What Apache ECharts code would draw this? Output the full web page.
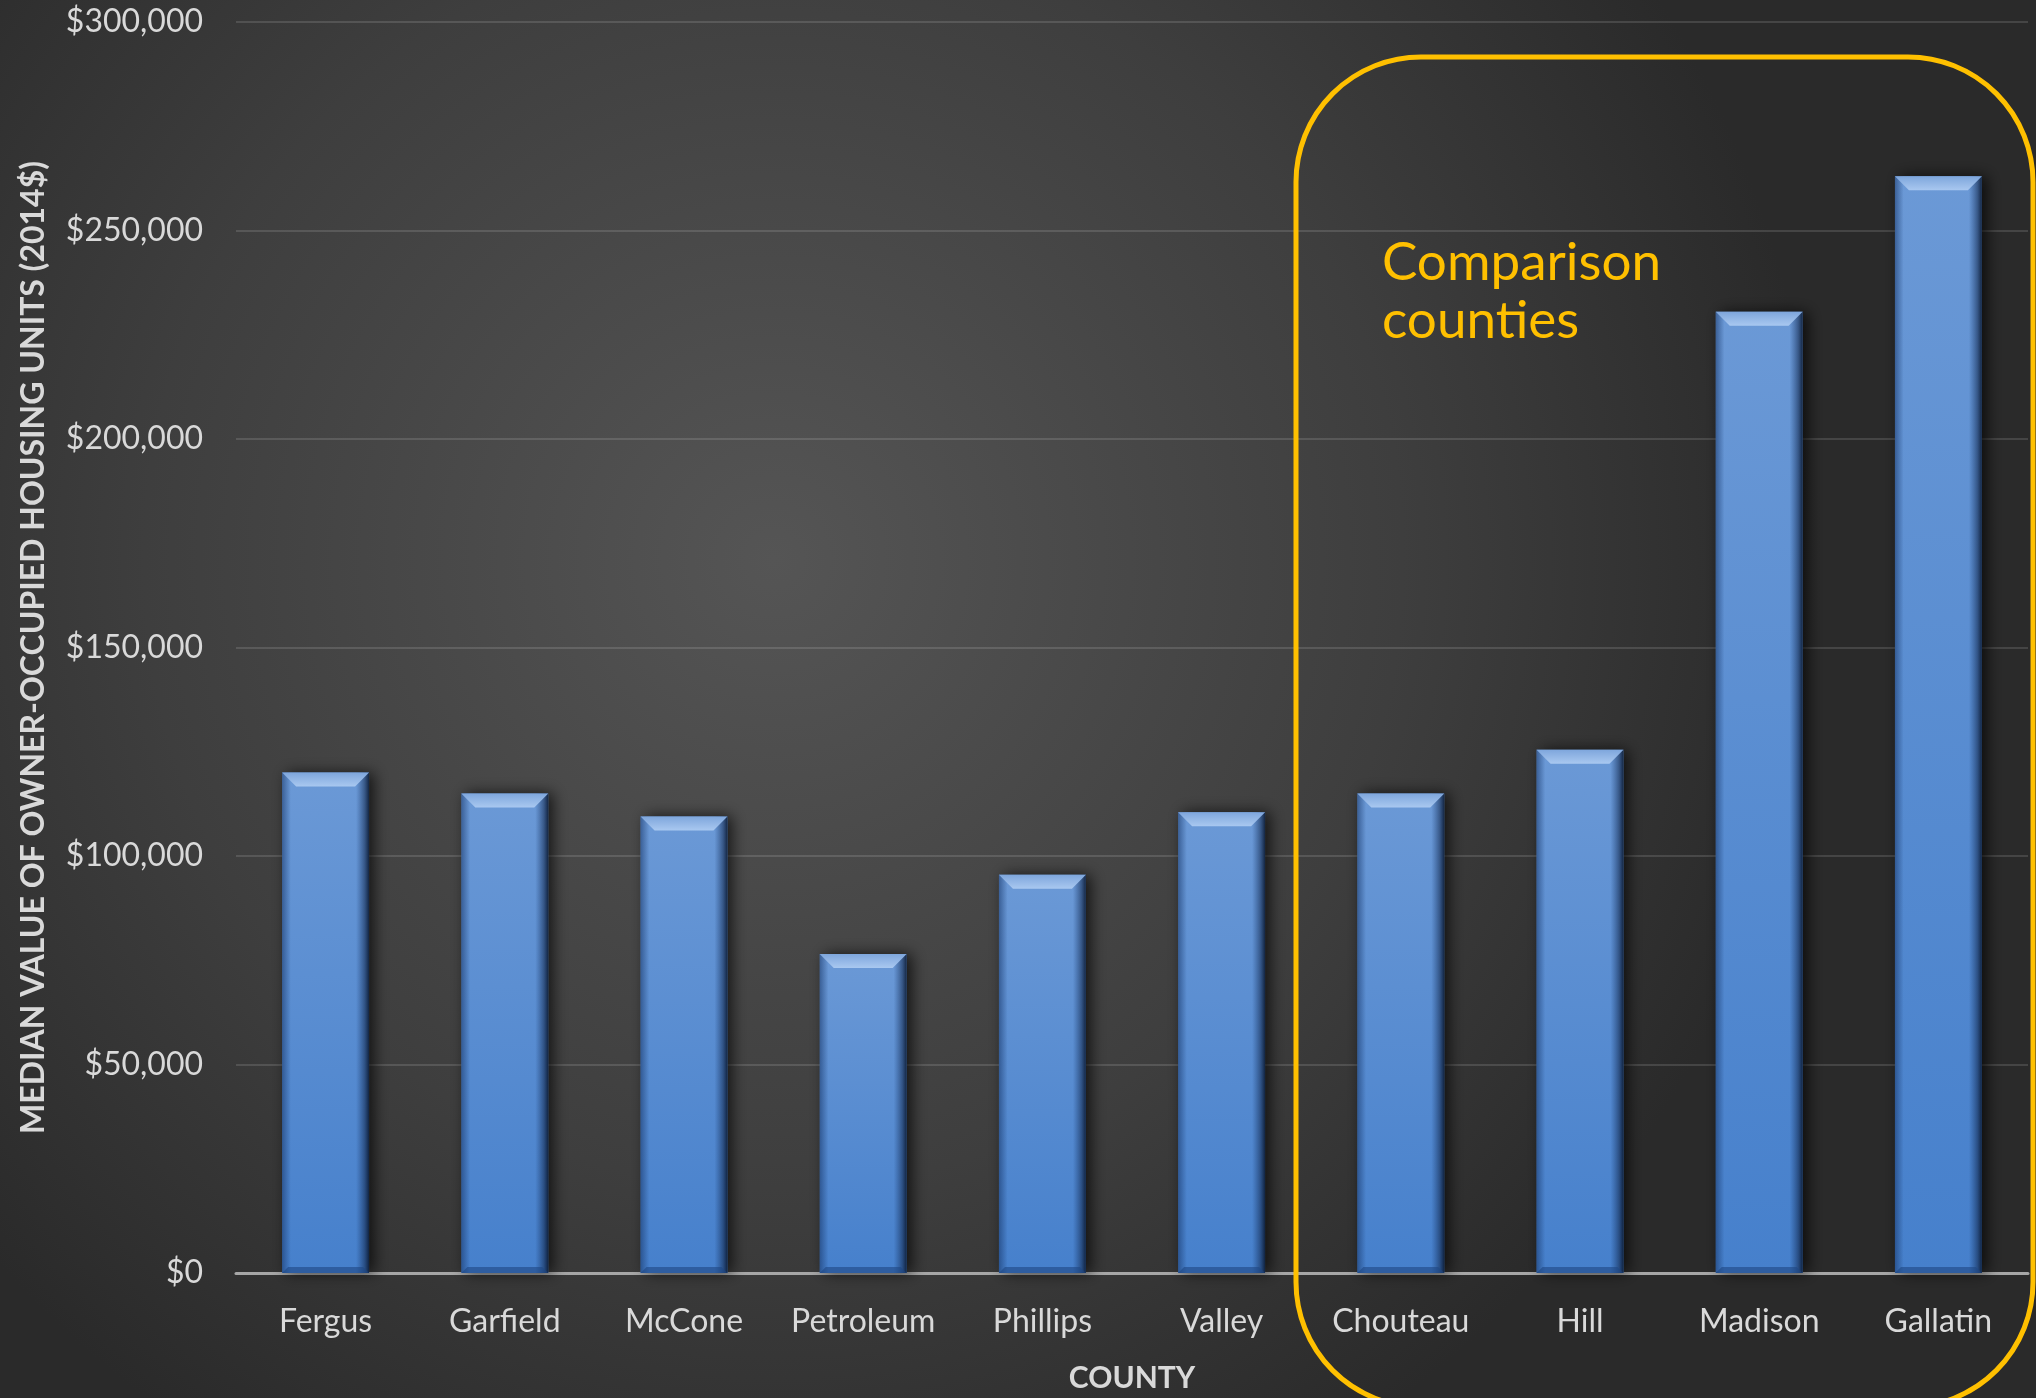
<!DOCTYPE html>
<html>
<head>
<meta charset="utf-8">
<script src="https://cdn.jsdelivr.net/npm/echarts@6/dist/echarts.min.js"></script>
<style>
html,body{margin:0;padding:0;background:#2e2e2e;}
#chart{width:2036px;height:1398px;}
</style>
</head>
<body>
<div id="chart"></div>
<script>
const counties = ['Fergus','Garfield','McCone','Petroleum','Phillips','Valley','Chouteau','Hill','Madison','Gallatin'];
const values = [120000, 115000, 109500, 76500, 95500, 110500, 115000, 125500, 230500, 263000];
const yTicks = [0, 50000, 100000, 150000, 200000, 250000, 300000];
const yAxisTitle = 'MEDIAN VALUE OF OWNER-OCCUPIED HOUSING UNITS (2014$)';
const xAxisTitle = 'COUNTY';
const noteLines = ['Comparison', 'counties'];

const chart = echarts.init(document.getElementById('chart'));
const FONT = 'Lato';

function renderBar(params, api) {
  const top = api.coord([api.value(0), api.value(1)]);
  const base = api.coord([api.value(0), 0]);
  const w = api.size([1, 0])[0] * 0.485;
  const left = top[0] - w / 2;
  const y0 = top[1];
  const h = base[1] - y0;
  const bev = 14;
  return {
    type: 'group',
    children: [
      {
        type: 'rect',
        shape: { x: left, y: y0, width: w, height: h },
        style: {
          fill: new echarts.graphic.LinearGradient(0, 0, 0, 1, [
            { offset: 0, color: '#6b99d6' },
            { offset: 1, color: '#4680cc' }
          ]),
          shadowBlur: 14,
          shadowOffsetX: 5,
          shadowOffsetY: 0,
          shadowColor: 'rgba(0,0,0,0.7)'
        }
      },
      {
        type: 'rect',
        shape: { x: left, y: y0, width: w, height: h },
        style: {
          fill: new echarts.graphic.LinearGradient(0, 0, 1, 0, [
            { offset: 0, color: 'rgba(20,50,100,0.55)' },
            { offset: 0.1, color: 'rgba(20,50,100,0.0)' },
            { offset: 0.85, color: 'rgba(20,50,100,0.0)' },
            { offset: 0.95, color: 'rgba(15,35,70,0.55)' },
            { offset: 1, color: 'rgba(10,25,50,0.9)' }
          ])
        }
      },
      {
        type: 'polygon',
        shape: { points: [[left, y0], [left + w, y0], [left + w - bev, y0 + bev], [left + bev, y0 + bev]] },
        style: {
          fill: new echarts.graphic.LinearGradient(0, 0, 0, 1, [
            { offset: 0, color: '#7ea6dc' },
            { offset: 1, color: '#a9c8f0' }
          ])
        }
      },
      {
        type: 'polygon',
        shape: { points: [[left, base[1]], [left + w, base[1]], [left + w - 6, base[1] - 6], [left + 6, base[1] - 6]] },
        style: { fill: 'rgba(30,70,130,0.6)' }
      }
    ]
  };
}

const option = {
  backgroundColor: {
    type: 'radial', x: 0.38, y: 0.4, r: 0.75,
    colorStops: [
      { offset: 0, color: '#555555' },
      { offset: 0.6, color: '#3e3e3e' },
      { offset: 1, color: '#2a2a2a' }
    ]
  },
  animation: false,
  grid: { left: 236, right: 8, top: 22, bottom: 123 },
  xAxis: {
    type: 'category',
    data: counties,
    name: xAxisTitle,
    nameLocation: 'middle',
    nameGap: 90,
    nameTextStyle: { color: '#d9d9d9', fontFamily: FONT, fontWeight: 'bold', fontSize: 30 },
    axisLine: { lineStyle: { color: '#a6a6a6', width: 3 } },
    axisTick: { show: false },
    axisLabel: { color: '#d9d9d9', fontFamily: FONT, fontSize: 32, margin: 33, interval: 0 }
  },
  yAxis: {
    type: 'value',
    min: 0, max: 300000, interval: 50000,
    name: yAxisTitle,
    nameLocation: 'middle',
    nameGap: 186,
    nameRotate: 90,
    nameTextStyle: { color: '#d9d9d9', fontFamily: FONT, fontWeight: 'bold', fontSize: 32 },
    axisLine: { show: false },
    axisTick: { show: false },
    splitLine: { lineStyle: { color: 'rgba(255,255,255,0.13)', width: 2 } },
    axisLabel: {
      color: '#d9d9d9', fontFamily: FONT, fontSize: 32, margin: 33,
      formatter: v => yTicks.includes(v) ? '$' + v.toLocaleString('en-US') : ''
    }
  },
  series: [{
    type: 'custom',
    renderItem: renderBar,
    data: counties.map((c, i) => [i, values[i]]),
    encode: { x: 0, y: 1 },
    z: 3
  }],
  graphic: [
    {
      type: 'rect',
      shape: { x: 1296, y: 57, width: 737, height: 1350, r: 125 },
      style: { fill: 'none', stroke: '#FFC000', lineWidth: 5 },
      z: 10
    },
    {
      type: 'text',
      left: 1382, top: 234,
      style: {
        text: noteLines.join('\n'),
        fill: '#FFC000',
        font: '53px ' + FONT,
        lineHeight: 58
      },
      z: 10
    }
  ]
};
chart.setOption(option);
</script>
</body>
</html>
